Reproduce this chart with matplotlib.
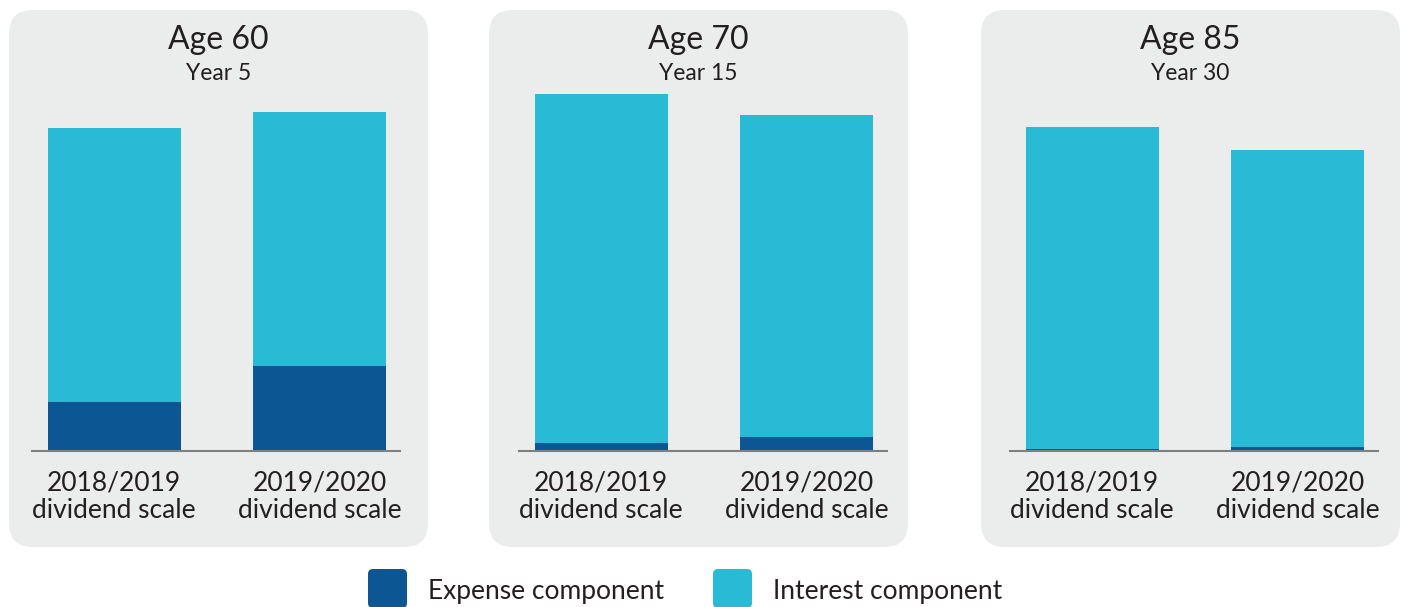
import matplotlib.pyplot as plt
from matplotlib.patches import FancyBboxPatch

plt.rcParams['font.family'] = ['Lato', 'DejaVu Sans']

# data (bar heights, arbitrary units)
ages = ['Age 60', 'Age 70', 'Age 85']
years = ['Year 5', 'Year 15', 'Year 30']
scales = ['2018/2019\ndividend scale', '2019/2020\ndividend scale']
expense = [[49, 85], [8, 14], [2, 4]]
interest = [[274, 254], [349, 322], [322, 297]]

dark = '#0c5694'
light = '#29bbd6'
txt = '#231f20'
W, H = 1405, 607

fig = plt.figure(figsize=(W / 100, H / 100), dpi=100)

# background layer in pixel coords
bg = fig.add_axes([0, 0, 1, 1])
bg.set_xlim(0, W)
bg.set_ylim(H, 0)
bg.axis('off')

panels = [(9, 428), (489, 908), (981, 1400)]
for x0, x1 in panels:
    bg.add_patch(FancyBboxPatch((x0, 10), x1 - x0, 537,
                                boxstyle='round,pad=0,rounding_size=24',
                                fc='#ebecec', ec='none'))

# bar panels
lefts = [32, 519, 1010]
for i in range(3):
    L = lefts[i]
    ax = fig.add_axes([L / W, (H - 451) / H, 368 / W, (451 - 80) / H])
    ax.patch.set_alpha(0)
    ax.bar([0, 1], expense[i], width=0.647, color=dark)
    ax.bar([0, 1], interest[i], bottom=expense[i], width=0.647, color=light)
    ax.set_xlim(-0.40, 1.39)
    ax.set_ylim(0, 371)
    for s in ['top', 'left', 'right']:
        ax.spines[s].set_visible(False)
    ax.spines['bottom'].set_color('#808080')
    ax.spines['bottom'].set_linewidth(1.5)
    ax.set_yticks([])
    ax.set_xticks([0, 1])
    ax.set_xticklabels(scales, fontsize=19, color=txt, linespacing=1.12)
    ax.tick_params(axis='x', length=0, pad=14)

    cx = (panels[i][0] + panels[i][1]) / 2
    fig.text(cx / W, 1 - 49 / H, ages[i], ha='center', va='baseline',
             fontsize=23, color=txt)
    fig.text(cx / W, 1 - 80 / H, years[i], ha='center', va='baseline',
             fontsize=16.5, color=txt)

# legend
for x0, col, lab in [(368, dark, 'Expense component'), (713, light, 'Interest component')]:
    bg.add_patch(FancyBboxPatch((x0, 569), 39, 39,
                                boxstyle='round,pad=0,rounding_size=5',
                                fc=col, ec='none', clip_on=False))
    fig.text((x0 + 60) / W, 1 - 599 / H, lab, ha='left', va='baseline',
             fontsize=19, color=txt)

fig.savefig('out.png', dpi=100)
